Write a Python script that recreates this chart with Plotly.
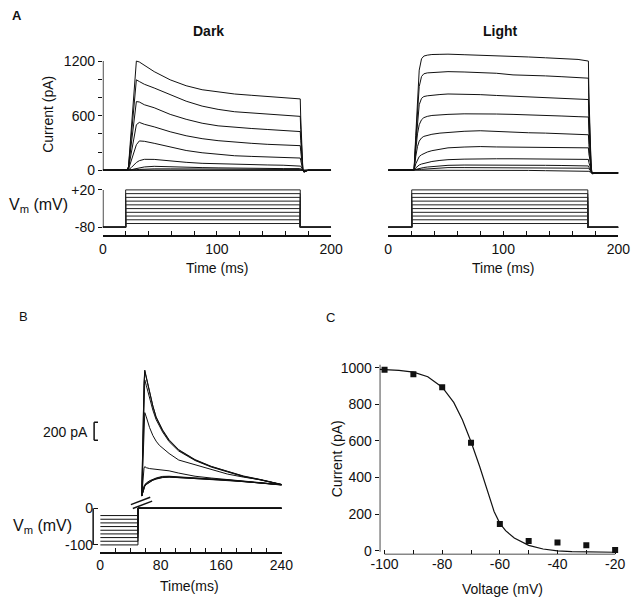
import plotly.graph_objects as go

W, H = 640, 603
INK = "#111111"
FONT = "Liberation Sans, Arial, sans-serif"

# ---------------- Panel A : data ----------------
A_LEVELS = [20, 10, 0, -10, -20, -30, -40, -50, -60, -70]   # step potentials (mV)
A_HOLD = -80
A_T_END = 200
DARK_STEP = [20, 173]
LIGHT_STEP = [20.5, 173.5]

T_DARK = [0, 21, 22.5, 25, 27, 29.4, 32, 36.4, 45, 59, 73, 87, 101, 115.5, 130, 144, 158,
          172, 173, 173.4, 175.3, 176.2, 180, 200]
I_DARK = [
    [0, 0, 40, 480, 820, 1200, 1190, 1156, 1084, 994, 929, 885, 860, 838, 824, 810, 799, 786, 784, 584, 0, -22, 0, 0],
    [0, 0, 35, 400, 700, 994, 975, 945, 904, 831, 759, 705, 669, 643, 629, 614, 604, 594, 592, 450, 0, -20, 0, 0],
    [0, 0, 30, 300, 540, 755, 750, 720, 687, 614, 560, 517, 488, 470, 459, 448, 437, 426, 425, 330, 0, -17, 0, 0],
    [0, 0, 20, 200, 360, 500, 526, 505, 477, 423, 379, 347, 325, 307, 296, 285, 278, 271, 270, 210, 0, -14, 0, 0],
    [0, 0, 10, 110, 200, 280, 322, 318, 296, 253, 217, 192, 173, 159, 152, 145, 141, 134, 134, 110, 0, -10, 0, 0],
    [0, 0, 4, 30, 55, 85, 105, 120, 119, 101, 87, 76, 70, 65, 62, 58, 55, 51, 51, 45, 0, -6, 0, 0],
    [0, 0, 1, 5, 12, 20, 28, 36, 43, 36, 32, 29, 26, 22, 20, 19, 18, 18, 18, 15, 0, -4, 0, 0],
    [0, 0, 0, 2, 4, 6, 9, 12, 15, 15, 13, 12, 11, 10, 10, 9, 9, 9, 9, 8, 0, -2, 0, 0],
    [0, 0, 0, 0, 1, 2, 3, 4, 5, 5, 5, 5, 5, 4, 4, 4, 4, 4, 4, 3, 0, -1, 0, 0],
    [0, 0, 0, 0, 0, 0, 0, 0, 0, 0, -1, -1, -1, -2, -2, -2, -2, -2, -2, -2, 0, 0, 0, 0],
]

T_LIGHT = [0, 22.5, 24, 25.5, 27, 29, 31, 34, 38, 45, 52, 66, 80, 94, 108.5, 122, 136.7, 151, 165,
           174, 174.4, 176.5, 177.3, 181, 200]
I_LIGHT = [
    [0, 0, 380, 800, 1100, 1225, 1255, 1265, 1272, 1274, 1276, 1270, 1265, 1262, 1254, 1245, 1236, 1227, 1218, 1200, 850, -10, -40, -30, -30],
    [0, 0, 330, 680, 920, 1030, 1060, 1070, 1073, 1075, 1084, 1080, 1072, 1066, 1048, 1045, 1037, 1028, 1019, 1012, 720, -10, -38, -30, -30],
    [0, 0, 280, 560, 720, 790, 810, 818, 825, 832, 838, 836, 831, 822, 813, 808, 802, 793, 784, 777, 560, -12, -36, -30, -30],
    [0, 0, 220, 400, 500, 555, 578, 592, 602, 610, 614, 620, 622, 618, 614, 610, 604, 596, 589, 585, 420, -14, -34, -30, -30],
    [0, 0, 150, 260, 320, 355, 372, 385, 395, 408, 416, 428, 434, 425, 416, 412, 408, 403, 398, 390, 280, -16, -33, -30, -30],
    [0, 0, 70, 120, 150, 170, 185, 200, 215, 232, 246, 255, 260, 256, 253, 253, 253, 250, 246, 246, 180, -18, -32, -30, -30],
    [0, 0, 25, 45, 58, 68, 76, 86, 96, 108, 116, 122, 126, 126, 126, 125, 123, 122, 120, 119, 85, -20, -31, -30, -30],
    [0, 0, 8, 14, 20, 26, 30, 35, 40, 48, 54, 57, 58, 57, 55, 54, 54, 52, 49, 47, 35, -22, -30, -30, -30],
    [0, 0, 3, 6, 8, 10, 12, 15, 18, 22, 29, 29, 29, 29, 28, 27, 25, 24, 23, 22, 15, -24, -30, -30, -30],
    [0, 0, 0, 1, 1, 2, 3, 3, 4, 5, 5, 4, 2, 1, 0, -2, -5, -7, -10, -12, -12, -26, -30, -30, -30],
]

A_CURR_LABEL_TICKS = [0, 600, 1200]
A_CURR_MINOR_STEP = 200
A_V_TICKS = [-80, 20]
A_V_LABELS = ["-80", "+20"]
A_T_LABEL_TICKS = [0, 100, 200]
A_T_MINOR_STEP = 20

# ---------------- Panel B : data ----------------
B_PRE = [-100, -90, -80, -70, -60, -50, -40, -30, -20]
B_TEST = 0
B_STEP_T = 50
B_T_END = 240
T_B = [55, 56.5, 58, 59, 61, 65.4, 69.7, 74, 78.3, 82.6, 91.2, 104, 125.6, 147, 168.6, 190, 211.6, 240]
I_B = [
    [0, 700, 1250, 1400, 1327, 1145, 1000, 873, 793, 727, 618, 509, 400, 327, 273, 218, 182, 127],
    [0, 690, 1230, 1385, 1315, 1140, 1000, 880, 800, 735, 625, 515, 405, 330, 275, 222, 185, 130],
    [0, 640, 1150, 1290, 1230, 1080, 955, 850, 775, 712, 605, 500, 395, 322, 268, 215, 180, 128],
    [0, 450, 850, 927, 880, 760, 673, 610, 564, 530, 473, 400, 345, 291, 244, 210, 182, 127],
    [0, 200, 310, 327, 315, 305, 300, 295, 292, 290, 280, 255, 220, 200, 182, 165, 150, 127],
    [0, 70, 110, 125, 145, 170, 188, 200, 210, 218, 220, 212, 200, 190, 180, 165, 148, 125],
    [0, 60, 100, 118, 138, 165, 182, 195, 205, 212, 215, 210, 198, 188, 178, 162, 146, 122],
    [0, 55, 95, 112, 132, 160, 178, 192, 202, 208, 212, 206, 196, 186, 176, 160, 145, 124],
    [0, 50, 90, 108, 128, 155, 175, 188, 198, 205, 210, 205, 195, 185, 175, 160, 144, 126],
]
B_T_LABEL_TICKS = [0, 80, 160, 240]
B_T_MINOR_STEP = 20
B_V_TICKS = [-100, 0]
B_V_LABELS = ["-100", "0"]
B_SCALE = [620, 820]  # 200 pA scale bar

# ---------------- Panel C : data ----------------
C_V = [-100, -90, -80, -70, -60, -50, -40, -30, -20]
C_I = [988, 964, 893, 590, 147, 54, 45, 30, 5]
C_FIT_V = [-101.7, -95, -90, -85, -80, -76, -73, -70, -67, -64, -62, -60, -58, -55, -50, -45, -40, -35, -30, -25, -20]
C_FIT_I = [990, 985, 975, 950, 893, 810, 715, 595, 460, 310, 215, 150, 110, 70, 30, 10, 0, -4, -6, -7, -8]
C_X_LABEL_TICKS = [-100, -80, -60, -40, -20]
C_X_LABELS = ["-100", "-80", "-60", "-40", "-20"]
C_X_MINOR_STEP = 10
C_Y_TICKS = [0, 200, 400, 600, 800, 1000]


# ---------------- layout helpers (pixel anchors -> paper domains) ----------------
def xdom(va, pa, vb, pb, r0, r1):
    s = (pb - pa) / (vb - va)
    return [(pa + (r0 - va) * s) / W, (pa + (r1 - va) * s) / W]


def ydom(va, pa, vb, pb, r0, r1):
    s = (pb - pa) / (vb - va)
    return [1 - (pa + (r0 - va) * s) / H, 1 - (pa + (r1 - va) * s) / H]


def px(x):
    return x / W


def py(y):
    return 1 - y / H


fig = go.Figure()


def line(xs, ys, xa, ya, width=1.0, color=INK):
    fig.add_trace(go.Scatter(x=xs, y=ys, xaxis=xa, yaxis=ya, mode="lines",
                             line=dict(color=color, width=width), showlegend=False,
                             hoverinfo="skip"))


# Panel A traces
for tr in I_DARK:
    line(T_DARK, tr, "x", "y")
for lv in A_LEVELS:
    line([0, DARK_STEP[0], DARK_STEP[0], DARK_STEP[1], DARK_STEP[1], A_T_END],
         [A_HOLD, A_HOLD, lv, lv, A_HOLD, A_HOLD], "x2", "y2", color="#222222")
for tr in I_LIGHT:
    line(T_LIGHT, tr, "x3", "y3")
for lv in A_LEVELS:
    line([0, LIGHT_STEP[0], LIGHT_STEP[0], LIGHT_STEP[1], LIGHT_STEP[1], A_T_END],
         [A_HOLD, A_HOLD, lv, lv, A_HOLD, A_HOLD], "x4", "y4", color="#222222")

# Panel B traces
for tr in I_B:
    line(T_B, tr, "x5", "y5")
for lv in B_PRE:
    line([0, B_STEP_T, B_STEP_T, B_T_END], [lv, lv, B_TEST, B_TEST], "x6", "y6")

# Panel C
line(C_FIT_V, C_FIT_I, "x7", "y7", width=1.2)
fig.add_trace(go.Scatter(x=C_V, y=C_I, xaxis="x7", yaxis="y7", mode="markers",
                         marker=dict(symbol="square", size=6, color=INK),
                         showlegend=False, hoverinfo="skip"))

tickfont = dict(family=FONT, size=14, color=INK)
hidden = dict(visible=False, showgrid=False, zeroline=False)
base = dict(showgrid=False, zeroline=False, tickfont=tickfont, tickcolor=INK,
            linecolor=INK, ticklen=4, tickwidth=1.3)


def minor(step, start, where):
    return dict(ticks=where, dtick=step, tick0=start, ticklen=4, tickwidth=1.3,
                tickcolor=INK, showgrid=False)


# ---- Panel A axis ranges / domains
A_T_RANGE = [0, 200]
D_CURR_RANGE = [-80, 1300]
L_CURR_RANGE = [-80, 1350]
A_V_RANGE = [-101, 25]
dark_x = xdom(0, 97, 200, 333, *A_T_RANGE)
light_x = xdom(0, 392, 200, 630, *A_T_RANGE)
dark_cy = ydom(0, 167, 1200, 56, *D_CURR_RANGE)
light_cy = ydom(0, 167, 1200, 56, *L_CURR_RANGE)
a_vy = ydom(-80, 225, 20, 187, *A_V_RANGE)

# ---- Panel B
B_T_RANGE = [0, 241]
B_C_RANGE = [-40, 1450]
B_V_RANGE = [-119, 6]
b_x = xdom(0, 94.3, 240, 281.7, *B_T_RANGE)
b_cy = ydom(0, 498.3, 200, 480.0, *B_C_RANGE)
b_vy = ydom(0, 510.7, -100, 548, *B_V_RANGE)

# ---- Panel C
C_X_RANGE = [-101.7, -17.5]
C_Y_RANGE = [-20, 1040]
c_x = xdom(-100, 388.3, -20, 626.7, *C_X_RANGE)
c_y = ydom(0, 554, 1000, 367.7, *C_Y_RANGE)

time_axis = dict(base, showline=True, linewidth=1.5, ticks="inside", tickmode="array")

fig.update_layout(
    width=W, height=H, autosize=False,
    margin=dict(l=0, r=0, t=0, b=0, pad=0),
    paper_bgcolor="white", plot_bgcolor="rgba(0,0,0,0)",
    font=dict(family=FONT, size=14, color=INK),
    showlegend=False,
    # Dark current
    xaxis=dict(hidden, domain=dark_x, range=A_T_RANGE, anchor="y"),
    yaxis=dict(base, domain=dark_cy, range=D_CURR_RANGE, anchor="x", showline=False,
               ticks="outside", tickmode="array", tickvals=A_CURR_LABEL_TICKS,
               minor=minor(A_CURR_MINOR_STEP, 0, "outside")),
    # Dark voltage + time axis
    xaxis2=dict(time_axis, domain=dark_x, range=A_T_RANGE, anchor="y2",
                tickvals=A_T_LABEL_TICKS, minor=minor(A_T_MINOR_STEP, 0, "inside")),
    yaxis2=dict(base, domain=a_vy, range=A_V_RANGE, anchor="x2", showline=False,
                ticks="outside", tickmode="array", tickvals=A_V_TICKS, ticktext=A_V_LABELS),
    # Light current
    xaxis3=dict(hidden, domain=light_x, range=A_T_RANGE, anchor="y3"),
    yaxis3=dict(hidden, domain=light_cy, range=L_CURR_RANGE, anchor="x3"),
    # Light voltage + time axis
    xaxis4=dict(time_axis, domain=light_x, range=A_T_RANGE, anchor="y4",
                tickvals=A_T_LABEL_TICKS, minor=minor(A_T_MINOR_STEP, 0, "inside")),
    yaxis4=dict(hidden, domain=a_vy, range=A_V_RANGE, anchor="x4"),
    # B current
    xaxis5=dict(hidden, domain=b_x, range=B_T_RANGE, anchor="y5"),
    yaxis5=dict(hidden, domain=b_cy, range=B_C_RANGE, anchor="x5"),
    # B voltage + time
    xaxis6=dict(time_axis, domain=b_x, range=B_T_RANGE, anchor="y6",
                tickvals=B_T_LABEL_TICKS, minor=minor(B_T_MINOR_STEP, 0, "inside")),
    yaxis6=dict(base, domain=b_vy, range=B_V_RANGE, anchor="free", position=px(87),
                showline=False, ticks="inside", tickmode="array",
                tickvals=B_V_TICKS, ticktext=B_V_LABELS),
    # C
    xaxis7=dict(base, domain=c_x, range=C_X_RANGE, anchor="y7", showline=False,
                ticks="inside", tickmode="array", tickvals=C_X_LABEL_TICKS, ticktext=C_X_LABELS,
                minor=minor(C_X_MINOR_STEP, -100, "inside")),
    yaxis7=dict(base, domain=c_y, range=C_Y_RANGE, anchor="x7", showline=False,
                ticks="outside", tickmode="array", tickvals=C_Y_TICKS),
)

# ---- axis lines limited to the tick span (drawn as shapes)
LW = 1.5
shapes = [
    dict(type="line", xref="x", yref="y", x0=0, x1=0, y0=min(A_CURR_LABEL_TICKS), y1=max(A_CURR_LABEL_TICKS)),
    dict(type="line", xref="x2", yref="y2", x0=0, x1=0, y0=min(A_V_TICKS), y1=max(A_V_TICKS)),
    dict(type="line", xref="paper", yref="y6", x0=px(87), x1=px(87), y0=min(B_V_TICKS), y1=max(B_V_TICKS)),
    dict(type="line", xref="x7", yref="y7", x0=C_X_RANGE[0], x1=C_X_RANGE[0], y0=-5, y1=1015),
    dict(type="line", xref="x7", yref="y7", x0=min(C_X_LABEL_TICKS), x1=max(C_X_LABEL_TICKS),
         y0=C_Y_RANGE[0], y1=C_Y_RANGE[0]),
    # 200 pA scale bar
    dict(type="line", xref="paper", yref="y5", x0=px(88), x1=px(88), y0=B_SCALE[0], y1=B_SCALE[1]),
    dict(type="line", xref="paper", yref="y5", x0=px(88), x1=px(92), y0=B_SCALE[0], y1=B_SCALE[0]),
    dict(type="line", xref="paper", yref="y5", x0=px(88), x1=px(92), y0=B_SCALE[1], y1=B_SCALE[1]),
    # axis-break mark
    dict(type="line", xref="paper", yref="paper", x0=px(126), x1=px(146), y0=py(507), y1=py(499.5)),
    dict(type="line", xref="paper", yref="paper", x0=px(128), x1=px(148), y0=py(511), y1=py(503.5)),
]
for s in shapes:
    s["line"] = dict(color=INK, width=LW)
    fig.add_shape(**s)


def ann(text, x, y, size=14, bold=False, angle=0, xanchor="center"):
    fig.add_annotation(text=f"<b>{text}</b>" if bold else text, x=px(x), y=py(y),
                       xref="paper", yref="paper", showarrow=False, textangle=angle,
                       xanchor=xanchor, yanchor="middle",
                       font=dict(family=FONT, size=size, color=INK))


ann("A", 8, 10, size=13, bold=True)
ann("B", 15, 316, size=13)
ann("C", 332, 317, size=13)
ann("Dark", 206, 25, size=14, bold=True)
ann("Light", 508, 25, size=14, bold=True)
ann("Current (pA)", 41, 110, angle=-90)
ann("V<sub>m</sub> (mV)", 30, 203, size=16)
ann("Time (ms)", 215, 266)
ann("Time (ms)", 511, 266)
ann("200 pA", 58, 433)
ann("V<sub>m</sub> (mV)", 35, 529, size=16)
ann("Time(ms)", 187, 590)
ann("Current (pA)", 339, 460, angle=-90)
ann("Voltage (mV)", 510, 593)

fig.write_html("out.html", config={"displayModeBar": False},
               post_script="document.body.style.margin='0';")
